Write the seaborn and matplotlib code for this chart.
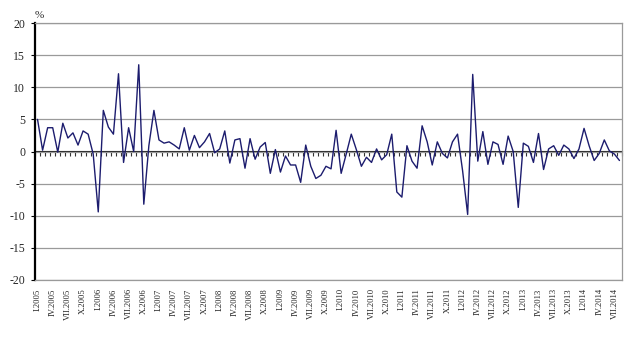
import numpy as np
import pandas as pd
import matplotlib
matplotlib.use("Agg")
import matplotlib.pyplot as plt
import seaborn as sns

roman = ["I", "II", "III", "IV", "V", "VI", "VII", "VIII", "IX", "X", "XI", "XII"]
years = list(range(2005, 2015))
months = [f"{r}.{y}" for y in years for r in roman][:116]

values = [
    5.0, 0.2, 3.7, 3.7, -0.1, 4.4, 2.1, 2.9, 1.0, 3.2, 2.7, -0.4,
    -9.4, 6.4, 3.8, 2.7, 12.1, -1.7, 3.7, 0.0, 13.5, -8.2, 0.9, 6.4,
    1.8, 1.3, 1.5, 1.0, 0.4, 3.7, 0.2, 2.5, 0.6, 1.5, 2.8, -0.2,
    0.4, 3.2, -1.8, 1.8, 2.0, -2.6, 2.0, -1.2, 0.7, 1.4, -3.4, 0.3,
    -3.2, -0.7, -2.1, -2.1, -4.8, 1.0, -2.3, -4.2, -3.7, -2.3, -2.7, 3.3,
    -3.4, -0.4, 2.7, 0.3, -2.3, -0.9, -1.7, 0.4, -1.3, -0.5, 2.7, -6.3,
    -7.1, 0.9, -1.5, -2.6, 4.0, 1.5, -2.1, 1.5, -0.3, -1.0, 1.5, 2.7,
    -3.0, -9.8, 12.0, -1.5, 3.1, -2.0, 1.5, 1.1, -2.0, 2.4, 0.0, -8.7,
    1.3, 0.8, -1.7, 2.8, -2.8, 0.4, 0.9, -0.6, 1.0, 0.4, -1.1, 0.4,
    3.6, 0.9, -1.4, -0.3, 1.8, 0.1, -0.4, -1.4,
]
tick_labels = months[::3]

df = pd.DataFrame({"pos": np.arange(len(values)), "value": values})

sns.set_style("white")
plt.rcParams["font.family"] = ["Liberation Serif", "DejaVu Serif"]

fig = plt.figure(figsize=(6.4, 3.43), dpi=100)
ax = fig.add_axes([35 / 640, 1 - 280 / 343, (622 - 35) / 640, (280 - 23) / 343])

sns.lineplot(data=df, x="pos", y="value", ax=ax, color="#1c1c6e", linewidth=1.0)

ax.set_xlim(-0.5, len(values) - 0.5)
ax.set_ylim(-20, 20)
ax.set_yticks(np.arange(-20, 21, 5))
ax.set_yticklabels([str(v) for v in range(-20, 21, 5)], fontsize=8.5)
ax.set_xticks(np.arange(0, len(values), 3))
ax.set_xticklabels(tick_labels, rotation=90, fontsize=6.2, va="top", ha="center")
ax.tick_params(axis="x", length=0, pad=6)
ax.tick_params(axis="y", length=3, width=0.8, color="black", direction="out", pad=4, left=True)
ax.set_xlabel("")
ax.set_ylabel("")

ax.grid(axis="y", color="#9a9a9a", linewidth=0.9)
ax.grid(axis="x", visible=False)
ax.set_axisbelow(True)

for side in ["top", "right", "bottom"]:
    ax.spines[side].set_color("#9a9a9a")
    ax.spines[side].set_linewidth(0.9)
ax.spines["left"].set_color("black")
ax.spines["left"].set_linewidth(1.6)

# zero axis with category-boundary tick marks pointing down
sec = ax.secondary_xaxis(0.5)
sec.set_xticks(np.arange(-0.5, len(values), 1.0))
sec.set_xticklabels([])
sec.xaxis.set_ticks_position("bottom")
sec.tick_params(axis="x", which="both", direction="out", length=3, width=0.8,
                color="#333333", bottom=True, top=False)
sec.spines["bottom"].set_color("#222222")
sec.spines["bottom"].set_linewidth(1.2)

fig.text(39 / 640, 1 - 16 / 343, "%", ha="center", va="center", fontsize=8)

fig.savefig("out.png", dpi=100)
